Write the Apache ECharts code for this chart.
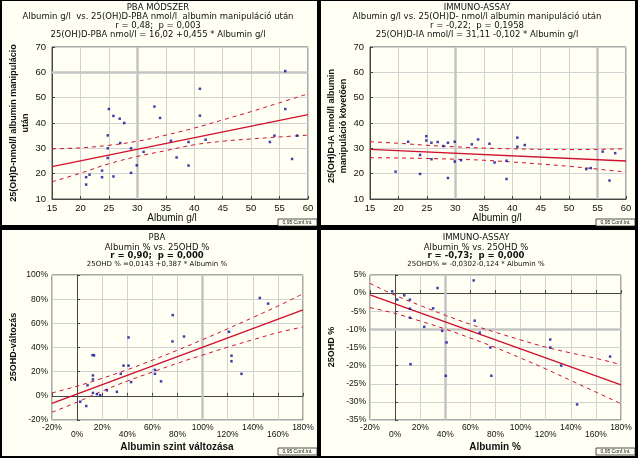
<!DOCTYPE html>
<html><head><meta charset="utf-8">
<script src="https://cdn.jsdelivr.net/npm/echarts@6/dist/echarts.min.js"></script>
<style>html,body{margin:0;padding:0;background:#fffff4}#c{width:638px;height:458px}</style>
</head><body><div id="c"></div><script>
// ---------- DATA ----------
// Panel 1: PBA method, albumin g/l vs 25(OH)D-PBA nmol/l
const pbaAlbumin = [25, 33, 41, 56, 56, 25.8, 26.9, 27.7, 27, 24.8, 24.8, 24.8, 23.8, 23.8, 21.6, 21, 21, 25.8, 28.9, 28.9, 29.9, 31.1, 34, 35.9, 36.9, 39, 39, 41, 42, 53.3, 54.1, 57.2, 58.1];
const pbaVitD    = [45.5, 46.5, 53.5, 60.5, 45.5, 42.8, 41.7, 40, 32.1, 35.1, 30, 26.2, 21.2, 18.6, 19.6, 18.6, 15.7, 18.9, 30, 20.3, 23.3, 28.6, 42, 33, 26.4, 32.5, 23.2, 42.9, 33.4, 32.5, 35, 25.8, 35];
const pbaFitX = [15, 60];
const pbaFitY = [22.8, 43.3];
const bandX1 = [15, 20, 25, 30, 35, 40, 45, 50, 55, 60];
const pbaUpper = [29.8, 30.2, 31.2, 32.8, 35.2, 38.0, 41.2, 44.5, 48.0, 51.5];
const pbaLower = [16.8, 20.2, 23.9, 26.8, 29.1, 31.4, 32.8, 33.7, 34.5, 35.2];

// Panel 2: Immuno-assay, albumin g/l vs 25(OH)D-IA nmol/l
const iaAlbumin = [19.5, 21.7, 23.8, 23.8, 24.9, 24.9, 25.8, 25.8, 26.9, 27.9, 28.7, 28.7, 29.9, 29.9, 31, 32.9, 34, 36, 36.9, 39, 39, 40.9, 40.9, 42.2, 53, 53.8, 55.9, 57.1, 58.1];
const iaVitD    = [20.8, 32.6, 27.4, 19.9, 34.8, 33.1, 32.2, 25.7, 32.5, 30.9, 32.2, 18.3, 32.6, 24.8, 25.3, 31.6, 33.5, 31.8, 24.4, 25.1, 17.9, 34.2, 30.6, 31.3, 21.8, 22.2, 28.7, 17.3, 28.1];
const iaFitX = [15, 60];
const iaFitY = [29.6, 25.0];
const iaUpper = [32.6, 32.0, 31.2, 30.6, 30.1, 29.8, 29.6, 29.5, 29.6, 29.8];
const iaLower = [26.3, 26.2, 26.0, 25.7, 25.3, 24.6, 23.8, 22.9, 21.8, 20.6];

// Panel 3: PBA, albumin change % vs 25OHD change %
const pbaAlbPct = [13.5, 12.3, 12.6, 12.6, 8.3, 7.3, 2.5, 12.6, 15.8, 18.4, 23.7, 31.7, 34.8, 37, 41, 43, 62, 62, 66.9, 76, 123, 123, 131, 41, 76.2, 85.2, 145.6, 152.2, 121];
const pbaVitPct = [33.5, 33.7, 16.9, 13.6, 8.7, -8.4, -4.9, 2.4, 1.4, 0.5, 4.6, 3.3, 18.2, 25, 25, 11.4, 21.5, 18.2, 12, 45, 33.2, 28.6, 18.2, 48.3, 66.8, 49.1, 81, 76.3, 53];
const bandX2 = [-20, 0, 20, 40, 60, 80, 100, 120, 140, 160, 180];
const pbaPctFitX = [-20, 180];
const pbaPctFitY = [-6.3, 71.1];
const pbaPctUpper = [2.4, 8.0, 14.5, 21.6, 29.5, 37.8, 46.5, 55.5, 64.8, 74.3, 84.5];
const pbaPctLower = [-13.6, -5.2, 3.9, 12.2, 19.7, 27.0, 33.7, 40.3, 46.4, 52.3, 57.0];

// Panel 4: Immuno-assay, albumin % vs 25OHD %
const iaAlbPct = [62.6, 33.8, -2.3, 7.3, 1.7, 11.8, 11.8, 11.8, 30.3, 23.2, 37.5, 63.4, 67.4, 41, 123.6, 12.3, 40.4, 76.7, 75.9, 123.6, 132.3, 145, 171.3];
const iaVitPct = [3.5, 1.4, 0.5, -0.6, -1.8, -1.8, -4.3, -6.8, -4.2, -9.3, -10.4, -7.6, -10.9, -13.6, -12.8, -19.6, -22.8, -22.8, -15, -15, -20, -30.7, -17.5];
const iaPctFitX = [-20, 180];
const iaPctFitY = [-0.5, -25.3];
const iaPctUpper = [2.7, -0.6, -3.4, -6.1, -8.6, -10.8, -12.9, -14.9, -16.5, -18.0, -19.7];
const iaPctLower = [-4.0, -5.6, -7.7, -9.9, -12.4, -15.0, -17.9, -20.9, -24.1, -27.3, -30.5];

// Emphasised grid lines seen in the reference (x values, y values per panel)
const heavyX = [[30], [30, 55], [100], [40]];
const heavyY = [[60], [], [], [-10]];

// Text
const titles = [
  ["PBA MÓDSZER", "Albumin g/l  vs. 25(OH)D-PBA nmol/l  albumin manipuláció után", "r = 0,48;  p = 0,003", "25(OH)D-PBA nmol/l = 16,02 +0,455 * Albumin g/l"],
  ["IMMUNO-ASSAY", "Albumin g/l vs. 25(OH)D- nmol/l albumin manipuláció után", "r = -0,22;  p = 0,1958", "25(OH)D-IA nmol/l = 31,11 -0,102 * Albumin g/l"],
  ["PBA", "Albumin % vs. 25OHD %", "r = 0,90;  p = 0,000", "25OHD % =0,0143 +0,387 * Albumin %"],
  ["IMMUNO-ASSAY", "Albumin % vs. 25OHD %", "r = -0,73;  p = 0,000", "25OHD% = -0,0302-0,124 * Albumin %"]
];
const xNames = ["Albumin g/l", "Albumin g/l", "Albumin szint változása", "Albumin %"];
const yNames = [["25(OH)D-nmol/l albumin manipulácio", "után"], ["25(OH)D-IA nmol/l albumin", "manipuláció követően"], ["25OHD-változás"], ["25OHD %"]];
const confLabel = "0,95 Conf.Int.";

// ---------- CHART ----------
const FONT = '"Liberation Sans", Arial, sans-serif';
const TFONT = '"DejaVu Sans", Verdana, sans-serif';
const RED = '#d0102c';
const BLUE = '#10109a';
const zip = (a, b) => a.map((v, i) => [v, b[i]]);

const grids = [
  {left: 52, top: 47, width: 256, height: 152},
  {left: 370, top: 47, width: 256, height: 152},
  {left: 52, top: 275, width: 251, height: 145},
  {left: 370, top: 275, width: 251, height: 145}
].map(g => Object.assign({show: true, borderColor: '#555', borderWidth: 1, backgroundColor: 'transparent', containLabel: false, outerBoundsMode: 'none'}, g));

const lbl = (size, extra) => Object.assign({color: '#111', fontSize: size, fontFamily: FONT, interval: 0}, extra || {});
function axis(gi, min, max, interval, label, opts) {
  return Object.assign({
    type: 'value', gridIndex: gi, min: min, max: max, interval: interval,
    axisLine: {show: true, lineStyle: {color: '#444', width: 1}},
    axisTick: {show: true, inside: true, length: 3, lineStyle: {color: '#444'}},
    splitLine: {show: true, lineStyle: {color: '#d2d2d2', width: 1}},
    axisLabel: label
  }, opts || {});
}
const pct = v => v + '%';
const odd = v => (Math.round(v / 20) % 2 !== 0) ? v + '%' : '';
const even = v => (Math.round(v / 20) % 2 === 0) ? v + '%' : '';

const xAxes = [
  axis(0, 15, 60, 5, lbl(9.5, {margin: 4})),
  axis(1, 15, 60, 5, lbl(9.5, {margin: 4})),
  axis(2, -20, 180, 20, lbl(8.5, {margin: 3, formatter: odd})),
  axis(3, -20, 180, 20, lbl(8.5, {margin: 3, formatter: odd})),
  axis(2, -20, 180, 20, lbl(8.5, {margin: 10, formatter: even}), {position: 'bottom', axisLine: {show: false}, axisTick: {show: false}, splitLine: {show: false}}),
  axis(3, -20, 180, 20, lbl(8.5, {margin: 10, formatter: even}), {position: 'bottom', axisLine: {show: false}, axisTick: {show: false}, splitLine: {show: false}})
];
const yAxes = [
  axis(0, 10, 70, 10, lbl(9.5, {margin: 6})),
  axis(1, 10, 70, 10, lbl(9.5, {margin: 6})),
  axis(2, -20, 100, 20, lbl(8.5, {margin: 4, formatter: pct})),
  axis(3, -35, 5, 5, lbl(8.5, {margin: 4, formatter: pct}))
];

function panelSeries(i, xs, ys, fitX, fitY, bx, up, lo) {
  const base = {xAxisIndex: i, yAxisIndex: i, animation: false, silent: true};
  const heavy = heavyX[i].map(v => ({xAxis: v})).concat(heavyY[i].map(v => ({yAxis: v})));
  return [
    Object.assign({type: 'scatter', data: zip(xs, ys), symbol: 'rect', symbolSize: 2.5, itemStyle: {color: BLUE}, z: 5,
      markLine: {silent: true, symbol: 'none', label: {show: false}, animation: false, z: 1,
        lineStyle: {color: '#c4c4c4', width: 2.5, type: 'solid'}, data: heavy}}, base),
    Object.assign({type: 'line', data: zip(fitX, fitY), symbol: 'none', lineStyle: {color: RED, width: 1.4}}, base),
    Object.assign({type: 'line', data: zip(bx, up), symbol: 'none', smooth: 0.4, lineStyle: {color: RED, width: 1, type: [4, 4]}}, base),
    Object.assign({type: 'line', data: zip(bx, lo), symbol: 'none', smooth: 0.4, lineStyle: {color: RED, width: 1, type: [4, 4]}}, base)
  ];
}
const series = [].concat(
  panelSeries(0, pbaAlbumin, pbaVitD, pbaFitX, pbaFitY, bandX1, pbaUpper, pbaLower),
  panelSeries(1, iaAlbumin, iaVitD, iaFitX, iaFitY, bandX1, iaUpper, iaLower),
  panelSeries(2, pbaAlbPct, pbaVitPct, pbaPctFitX, pbaPctFitY, bandX2, pbaPctUpper, pbaPctLower),
  panelSeries(3, iaAlbPct, iaVitPct, iaPctFitX, iaPctFitY, bandX2, iaPctUpper, iaPctLower)
);

// graphic: frames, titles, axis names
const g = [];
[[0,0,638,1],[0,0,2,458],[635,0,3,458],[0,456,638,2],[317,0,4,458],[0,225,638,5]].forEach(r => {
  g.push({type: 'rect', shape: {x: r[0], y: r[1], width: r[2], height: r[3]}, style: {fill: '#000'}, silent: true});
});
function txt(text, x, y, font, opts) {
  return Object.assign({type: 'text', x: x, y: y, silent: true,
    style: {text: text, x: 0, y: 0, fill: '#111', font: font, textAlign: 'center', textVerticalAlign: 'middle', verticalAlign: 'middle'}}, opts || {});
}
const titleCfg = [
  {cx: 158, ys: [7.5, 17, 25.5, 34.5], f: ['8.5px', '8.5px', '8.5px', '8.5px']},
  {cx: 477, ys: [7.5, 17, 25.5, 34.5], f: ['8.5px', '8.5px', '8.5px', '8.5px']},
  {cx: 157, ys: [238, 247.5, 255.5, 264], f: ['8.5px', '8.5px', 'bold 8.5px', '7px']},
  {cx: 476, ys: [238, 247.5, 255.5, 264], f: ['8.5px', '8.5px', 'bold 8.5px', '7px']}
];
titles.forEach((lines, i) => {
  const c = titleCfg[i];
  lines.forEach((t, j) => g.push(txt(t, c.cx, c.ys[j], c.f[j] + ' ' + TFONT)));
});
const xNamePos = [[172, 218, '10px'], [497, 218, '10px'], [177, 447.5, 'bold 10px'], [495, 447.5, 'bold 10px']];
xNames.forEach((t, i) => g.push(txt(t, xNamePos[i][0], xNamePos[i][1], xNamePos[i][2] + ' ' + FONT)));
const yNamePos = [[[14, 123], [26, 123]], [[332, 126], [344, 126]], [[14, 347]], [[332, 347]]];
yNames.forEach((lines, i) => lines.forEach((t, j) =>
  g.push(txt(t, yNamePos[i][j][0], yNamePos[i][j][1], 'bold 9px ' + FONT, {rotation: Math.PI / 2}))));
[[278, 219], [596, 219], [278, 448], [596, 448]].forEach(p => {
  g.push({type: 'rect', shape: {x: p[0], y: p[1], width: 39, height: 7}, style: {fill: '#fffff4', stroke: '#222', lineWidth: 0.8}, silent: true});
  g.push(txt(confLabel, p[0] + 19.5, p[1] + 3.8, '5px ' + FONT));
});

const chart = echarts.init(document.getElementById('c'), null, {renderer: 'canvas'});
chart.setOption({
  backgroundColor: '#fffff4',
  animation: false,
  grid: grids,
  xAxis: xAxes,
  yAxis: yAxes,
  series: series,
  graphic: {elements: g}
});
</script></body></html>
